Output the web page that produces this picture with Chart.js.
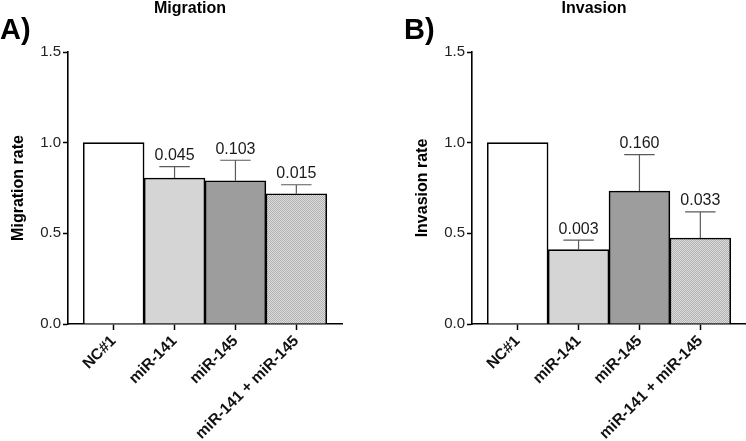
<!DOCTYPE html>
<html>
<head>
<meta charset="utf-8">
<script src="https://cdn.jsdelivr.net/npm/chart.js@4.4.1/dist/chart.umd.min.js"></script>
<style>
    body { margin: 0; background: #fff; width: 746px; height: 441px; overflow: hidden; display: flex; }
    .panel { position: relative; width: 373px; height: 441px; }
</style>
</head>
<body>
<div class="panel"><canvas id="chartA" width="373" height="441"></canvas></div>
<div class="panel"><canvas id="chartB" width="373" height="441"></canvas></div>
<script>
// dane
const categories = ['NC#1', 'miR-141', 'miR-145', 'miR-141 + miR-145'];
const yTicks = [0, 0.5, 1.0, 1.5];

const migrationRate = [1.0, 0.805, 0.79, 0.718];
const migrationErr = [0, 0.063, 0.113, 0.05];
const migrationP = ['', '0.045', '0.103', '0.015'];

const invasionRate = [1.0, 0.41, 0.733, 0.474];
const invasionErr = [0, 0.052, 0.201, 0.144];
const invasionP = ['', '0.003', '0.160', '0.033'];

const FONT = '"Liberation Sans", Arial, sans-serif';

// wzór kropkowany dla ostatniego słupka
function dotPattern() {
    const c = document.createElement('canvas');
    c.width = 2; c.height = 2;
    const p = c.getContext('2d');
    p.fillStyle = '#dedede';
    p.fillRect(0, 0, 2, 2);
    p.fillStyle = '#b0b0b0';
    p.fillRect(0, 0, 1, 1);
    p.fillRect(1, 1, 1, 1);
    return p.createPattern(c, 'repeat');
}

// słupki błędów (tylko w górę) + wartości p nad nimi
const errorBarPlugin = {
    id: 'errorBars',
    afterDatasetsDraw(chart, args, opts) {
        const ctx = chart.ctx;
        const y = chart.scales.y;
        const data = chart.data.datasets[0].data;
        ctx.save();
        chart.getDatasetMeta(0).data.forEach(function(bar, i) {
            const err = opts.errors[i];
            if (!err) return;
            const top = y.getPixelForValue(data[i].y + err);
            const half = bar.width / 4;
            ctx.strokeStyle = '#5a5a5a';
            ctx.lineWidth = 1.2;
            ctx.beginPath();
            ctx.moveTo(bar.x, bar.y);
            ctx.lineTo(bar.x, top);
            ctx.moveTo(bar.x - half, top);
            ctx.lineTo(bar.x + half, top);
            ctx.stroke();
            if (opts.pValues[i]) {
                ctx.fillStyle = '#1a1a1a';
                ctx.font = '16px ' + FONT;
                ctx.textAlign = 'center';
                ctx.textBaseline = 'bottom';
                ctx.fillText(opts.pValues[i], bar.x, top - 3);
            }
        });
        ctx.restore();
    }
};

// tytuł panelu i litera A) / B)
const headerPlugin = {
    id: 'header',
    afterDraw(chart, args, opts) {
        const ctx = chart.ctx;
        const area = chart.chartArea;
        ctx.save();
        ctx.fillStyle = '#000';
        ctx.font = 'bold 16px ' + FONT;
        ctx.textAlign = 'center';
        ctx.textBaseline = 'alphabetic';
        ctx.fillText(opts.title, (area.left + area.right) / 2 - 15, 13);
        ctx.font = 'bold 29px ' + FONT;
        ctx.textAlign = 'left';
        ctx.fillText(opts.panel, opts.panelX, 39);
        ctx.restore();
    }
};

function makeChart(id, values, errors, pValues, title, panel, yTitle, padLeft, padRight) {
    const ctx = document.getElementById(id).getContext('2d');
    const colors = ['#ffffff', '#d5d5d5', '#9d9d9d', dotPattern()];

    return new Chart(ctx, {
        type: 'bar',
        data: {
            datasets: [{
                data: values.map((v, i) => ({ x: i, y: v })),
                backgroundColor: colors,
                borderColor: '#000',
                borderWidth: 1.6,
                barPercentage: 1,
                categoryPercentage: 1
            }]
        },
        options: {
            responsive: false,
            animation: false,
            devicePixelRatio: 1,
            layout: { padding: { top: 52, left: padLeft, right: padRight, bottom: 0 } },
            plugins: {
                legend: { display: false },
                tooltip: { enabled: false },
                errorBars: { errors: errors, pValues: pValues },
                header: { title: title, panel: panel, panelX: padLeft }
            },
            scales: {
                x: {
                    type: 'linear',
                    offset: false,
                    min: -0.75,
                    max: 3.75,
                    afterBuildTicks: s => { s.ticks = categories.map((c, i) => ({ value: i })); },
                    afterFit: s => { s.height = 117; },
                    ticks: {
                        callback: v => categories[v],
                        autoSkip: false,
                        minRotation: 45,
                        maxRotation: 45,
                        padding: 2,
                        color: '#111',
                        font: { family: FONT, size: 15.5, weight: 'bold' }
                    },
                    grid: { offset: false, drawOnChartArea: false, tickLength: 6, tickColor: '#000', tickWidth: 1.5 },
                    border: { color: '#000', width: 1.6 }
                },
                y: {
                    min: 0,
                    max: 1.5,
                    afterBuildTicks: s => { s.ticks = yTicks.map(v => ({ value: v })); },
                    afterFit: s => { s.width = 68; },
                    ticks: {
                        callback: v => v.toFixed(1),
                        padding: 2,
                        color: '#222',
                        font: { family: FONT, size: 15 }
                    },
                    grid: { drawOnChartArea: false, tickLength: 5, tickColor: '#000', tickWidth: 1.5 },
                    border: { color: '#000', width: 1.6 },
                    title: {
                        display: true,
                        text: yTitle,
                        color: '#000',
                        padding: { top: 9, bottom: 0 },
                        font: { family: FONT, size: 16, weight: 'bold' }
                    }
                }
            }
        },
        plugins: [errorBarPlugin, headerPlugin]
    });
}

document.addEventListener('DOMContentLoaded', function() {
    makeChart('chartA', migrationRate, migrationErr, migrationP, 'Migration', 'A)', 'Migration rate', 0, 31);
    makeChart('chartB', invasionRate, invasionErr, invasionP, 'Invasion', 'B)', 'Invasion rate', 31, 0);
});
</script>
</body>
</html>
